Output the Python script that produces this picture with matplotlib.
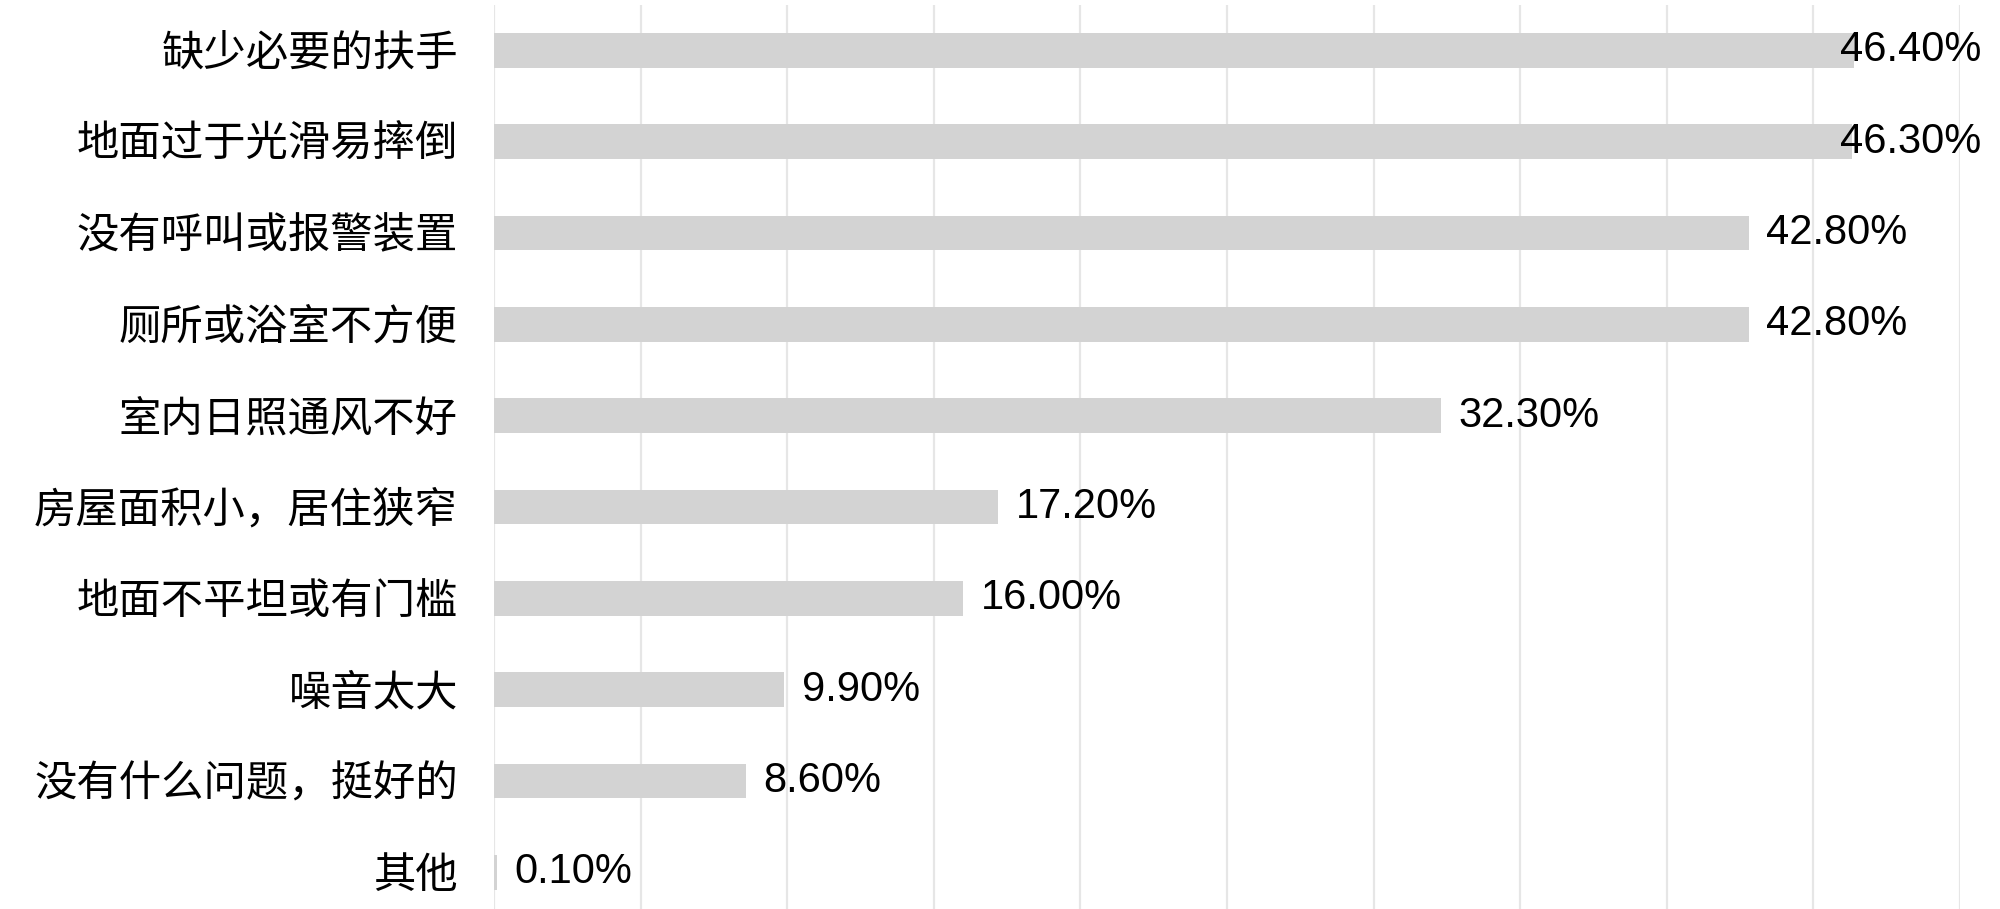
import matplotlib
matplotlib.use("Agg")
import matplotlib.pyplot as plt

plt.rcParams["font.family"] = ["Liberation Sans", "Noto Sans CJK SC", "DejaVu Sans"]

# categories top to bottom, values in percent
categories = [
    "缺少必要的扶手",
    "地面过于光滑易摔倒",
    "没有呼叫或报警装置",
    "厕所或浴室不方便",
    "室内日照通风不好",
    "房屋面积小，居住狭窄",
    "地面不平坦或有门槛",
    "噪音太大",
    "没有什么问题，挺好的",
    "其他",
]
values = [46.4, 46.3, 42.8, 42.8, 32.3, 17.2, 16.0, 9.9, 8.6, 0.1]
value_labels = ["46.40%", "46.30%", "42.80%", "42.80%", "32.30%",
                "17.20%", "16.00%", "9.90%", "8.60%", "0.10%"]

fig = plt.figure(figsize=(20, 9.09), dpi=100)
ax = fig.add_axes([0.247, -0.01, 0.733, 1.005])

pos = list(range(len(categories)))
ax.barh(pos, values, height=0.38, color="#d3d3d3", zorder=2)

ax.set_xlim(0, 50)
ax.set_ylim(len(categories) - 0.5, -0.5)
ax.set_xticks(range(0, 51, 5))
ax.xaxis.grid(True, color="#e6e6e6", linewidth=1.6, zorder=0)
ax.tick_params(axis="x", length=0, labelbottom=False)
ax.tick_params(axis="y", length=0, pad=26, labelsize=30.5)
ax.set_yticks(pos)
ax.set_yticklabels(categories)
for s in ax.spines.values():
    s.set_visible(False)

# labels near the right edge are pulled back inside the chart
for p, v, lab in zip(pos, values, value_labels):
    ax.text(min(v + 0.6, 45.9), p, lab, va="center", ha="left",
            fontsize=30, color="black", clip_on=False, zorder=3)

fig.savefig("out.png", dpi=100, facecolor="white")
